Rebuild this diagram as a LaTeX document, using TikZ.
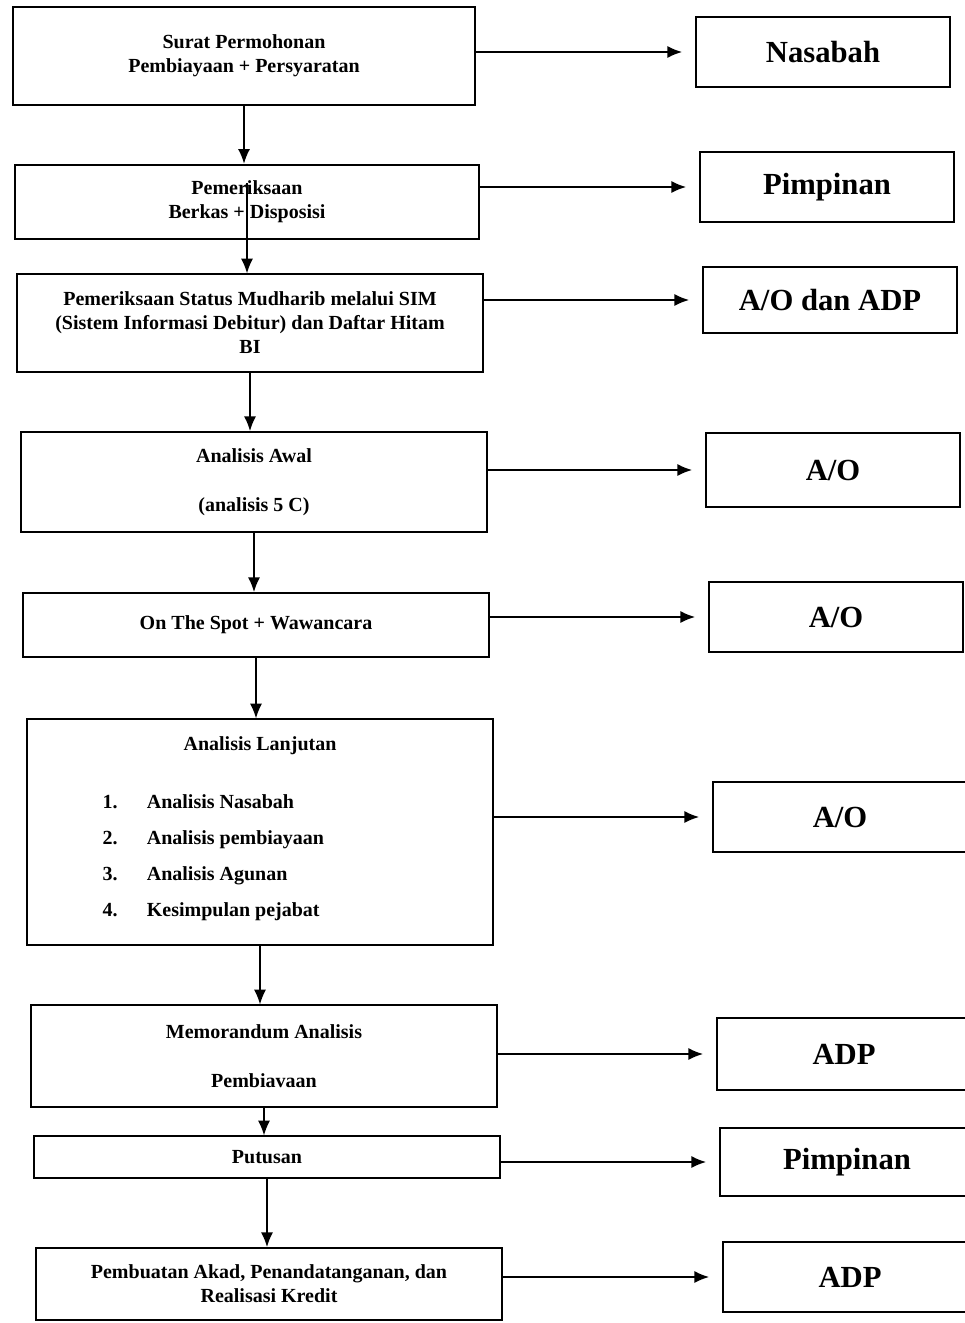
\documentclass[tikz,border=0pt]{standalone}
\usepackage{fontspec}
\setmainfont{Liberation Serif}
\usetikzlibrary{arrows.meta}

\begin{document}
\begin{tikzpicture}[
            x = 0.75pt, y = -0.75pt, % pixel units, y downwards
            > = {Latex[length=11pt, width=9pt]}, % arrow head style
            line width = 1.1pt, % line style
            font = \bfseries\fontsize{15}{18}\selectfont
        ]

        \tikzstyle{proses}=[
            draw = black,
            line width = 1.4pt,
            align = center,
            inner sep = 0pt
        ]
        \tikzstyle{pelaku}=[
            draw = black,
            line width = 1.4pt,
            minimum width = 190pt,
            minimum height = 52pt,
            font = \bfseries\fontsize{23}{27}\selectfont
        ]
        \tikzstyle{kirim}=[->, shorten > = 10pt]

        \useasboundingbox (0,0) rectangle (964,1323);

        % alur proses
        \node[proses, minimum width=347pt, minimum height=73pt] (surat) at (244,56) {Surat Permohonan\\Pembiayaan + Persyaratan};
        \node[proses, minimum width=348pt, minimum height=56pt] (berkas) at (247,202) {Pemeriksaan\\Berkas + Disposisi};
        \node[proses, minimum width=349pt, minimum height=73pt] (status) at (250,323) {Pemeriksaan Status Mudharib melalui SIM\\(Sistem Informasi Debitur) dan Daftar Hitam\\BI};
        \node[proses, minimum width=349pt, minimum height=75pt] (awal) at (254,482) {Analisis Awal\\[19pt](analisis 5 C)};
        \node[proses, minimum width=349pt, minimum height=48pt] (spot) at (256,625) {On The Spot + Wawancara};
        \node[proses, minimum width=350pt, minimum height=169pt] (lanjut) at (260,832) {Analisis Lanjutan\\[20pt]
            \hspace*{-70pt}\renewcommand{\arraystretch}{1.5}\begin{tabular}{@{}l@{\hspace{22pt}}l@{}}
            1. & Analisis Nasabah\\
            2. & Analisis pembiayaan\\
            3. & Analisis Agunan\\
            4. & Kesimpulan pejabat
            \end{tabular}};
        \node[proses, minimum width=349pt, minimum height=76pt] (memo) at (264,1056) {Memorandum Analisis\\[19pt]Pembiavaan};
        \node[proses, minimum width=349pt, minimum height=31pt] (putus) at (267,1157) {Putusan};
        \node[proses, minimum width=349pt, minimum height=54pt] (akad) at (269,1284) {Pembuatan Akad, Penandatanganan, dan\\Realisasi Kredit};

        % pihak yang menangani
        \node[pelaku] (nasabah) at (823,52) {Nasabah};
        \node[pelaku] (pimpinanA) at (827,187) {Pimpinan};
        \node[pelaku, minimum height=50pt] (aoadp) at (830,300) {A/O dan ADP};
        \node[pelaku, minimum height=55pt] (aoA) at (833,470) {A/O};
        \node[pelaku] (aoB) at (836,617) {A/O};
        \node[pelaku] (aoC) at (840,817) {A/O};
        \node[pelaku, minimum height=54pt] (adpA) at (844,1054) {ADP};
        \node[pelaku, minimum height=51pt] (pimpinanB) at (847,1162) {Pimpinan};
        \node[pelaku] (adpB) at (850,1277) {ADP};

        \draw[->] (surat) -- (surat.south |- berkas.north);
        \draw[->] ([yshift=14pt]berkas.center) -- (berkas.center |- status.north);
        \draw[->] (status) -- (status.south |- awal.north);
        \draw[->] (awal) -- (awal.south |- spot.north);
        \draw[->] (spot) -- (spot.south |- lanjut.north);
        \draw[->] (lanjut) -- (lanjut.south |- memo.north);
        \draw[->] (memo) -- (memo.south |- putus.north);
        \draw[->] (putus) -- (putus.south |- akad.north);

        \draw[kirim] (surat.east |- nasabah.west) -- (nasabah.west);
        \draw[kirim] (berkas.east |- pimpinanA.west) -- (pimpinanA.west);
        \draw[kirim] (status.east |- aoadp.west) -- (aoadp.west);
        \draw[kirim] (awal.east |- aoA.west) -- (aoA.west);
        \draw[kirim] (spot.east |- aoB.west) -- (aoB.west);
        \draw[kirim] (lanjut.east |- aoC.west) -- (aoC.west);
        \draw[kirim] (memo.east |- adpA.west) -- (adpA.west);
        \draw[kirim] (putus.east |- pimpinanB.west) -- (pimpinanB.west);
        \draw[kirim] (akad.east |- adpB.west) -- (adpB.west);

  \end{tikzpicture}
\end{document}
